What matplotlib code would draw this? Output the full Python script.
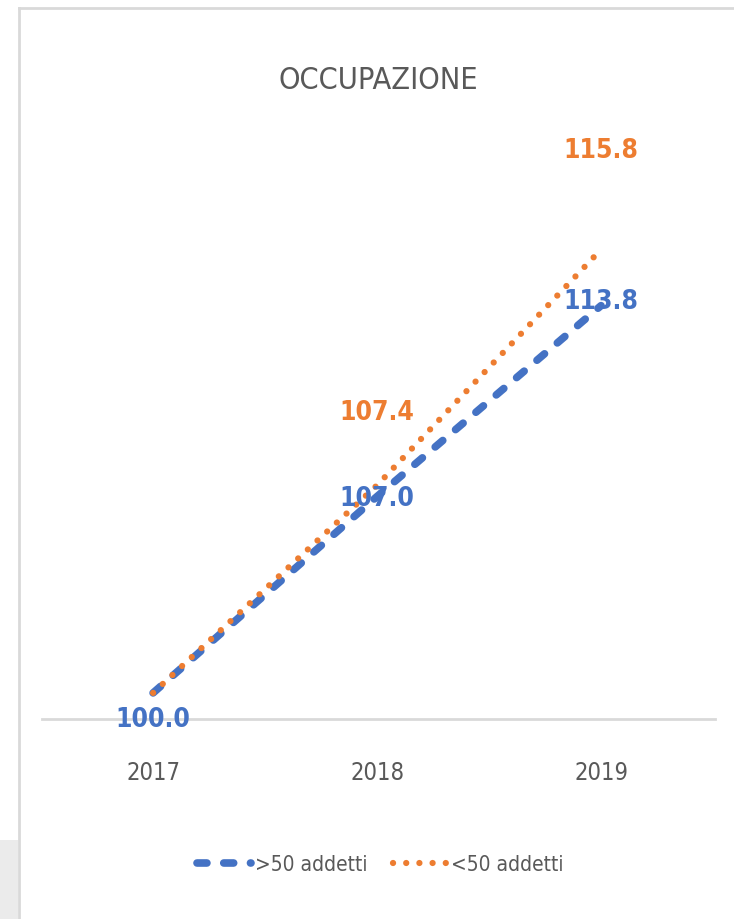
import os

import matplotlib

matplotlib.use("Agg")
import matplotlib.pyplot as plt
from matplotlib import font_manager
from matplotlib.lines import Line2D
from matplotlib.patches import Rectangle

YEARS = ["2017", "2018", "2019"]
BIG = [100.0, 107.0, 113.8]     # >50 addetti
SMALL = [100.0, 107.4, 115.8]   # <50 addetti
SERIES = [">50 addetti", "<50 addetti"]

BLUE = "#4472C4"
ORANGE = "#ED7D31"
GREY_TXT = "#595959"
GRID = "#D9D9D9"


def narrow_font(bold):
    # the original uses a narrow Calibri-like face; take whatever narrow/condensed face exists
    prefs = ["liberationsansnarrow", "dejavusanscondensed", "notosans-condensed", "robotocondensed", "narrow", "condensed"]
    found = {}
    for f in font_manager.fontManager.ttflist:
        base = os.path.basename(f.fname).lower().replace(" ", "")
        if "italic" in base or "oblique" in base or "extra" in base or "semi" in base:
            continue
        w = f.weight if isinstance(f.weight, int) else font_manager.weight_dict.get(f.weight, 400)
        if (w >= 600) != bold:
            continue
        for p in prefs:
            if p in base and p not in found:
                found[p] = f.fname
    for p in prefs:
        if p in found:
            return found[p]
    return None


def fp(size, bold=False):
    path = narrow_font(bold)
    if path:
        return font_manager.FontProperties(fname=path, size=size)
    return font_manager.FontProperties(family="DejaVu Sans", size=size * 0.85,
                                       weight="bold" if bold else "normal")


fig = plt.figure(figsize=(7.34, 9.19), dpi=100)
ax = fig.add_axes([0.0572, 0.2176, 0.917, 0.641])

xs = range(len(YEARS))
ax.plot(xs, BIG, color=BLUE, lw=5.5, linestyle=(0, (1.3, 2.2)),
        dash_capstyle="round", label=SERIES[0], zorder=3)
ax.plot(xs, SMALL, color=ORANGE, lw=4.5, linestyle=(0, (0.01, 2.1)),
        dash_capstyle="round", label=SERIES[1], zorder=4)

ax.set_xlim(-0.496, 2.509)
ax.set_ylim(99.07, 120.06)
ax.set_xticks(list(xs), YEARS)
ax.set_yticks([])
ax.tick_params(axis="x", length=0, pad=30, labelcolor=GREY_TXT)
for lbl in ax.get_xticklabels():
    lbl.set_fontproperties(fp(17))
for side in ("top", "right", "left"):
    ax.spines[side].set_visible(False)
ax.spines["bottom"].set_color(GRID)
ax.spines["bottom"].set_linewidth(2)

# data labels (pixel offsets from the points, as placed in the original)
blue_off = [-27, -3, 4]
orange_off = [None, 72, 99]
for i, v in enumerate(BIG):
    ax.annotate(f"{v:.1f}", (i, v), xytext=(0, blue_off[i]), textcoords="offset pixels",
                ha="center", va="center", color=BLUE, fontproperties=fp(19, True), zorder=5)
for i, v in enumerate(SMALL):
    if orange_off[i] is None:
        continue
    ax.annotate(f"{v:.1f}", (i, v), xytext=(0, orange_off[i]), textcoords="offset pixels",
                ha="center", va="center", color=ORANGE, fontproperties=fp(19, True), zorder=5)

fig.text(0.515, 0.912, "OCCUPAZIONE", ha="center", va="center", color=GREY_TXT,
         fontproperties=fp(22))

fig.legend(loc="center", bbox_to_anchor=(0.518, 0.059), ncol=2, frameon=False,
           prop=fp(15), labelcolor=GREY_TXT, handlelength=2.6, handletextpad=0.2,
           columnspacing=1.2)

# chart frame, as in the screenshot
fig.add_artist(Line2D([19 / 734, 1], [1 - 8 / 919] * 2, color=GRID, lw=2))
fig.add_artist(Line2D([19 / 734] * 2, [0, 1 - 8 / 919], color=GRID, lw=2))
fig.add_artist(Rectangle((0, 0), 18 / 734, 79 / 919, color="#EBEBEB", lw=0))

fig.savefig("out.png", dpi=100)
